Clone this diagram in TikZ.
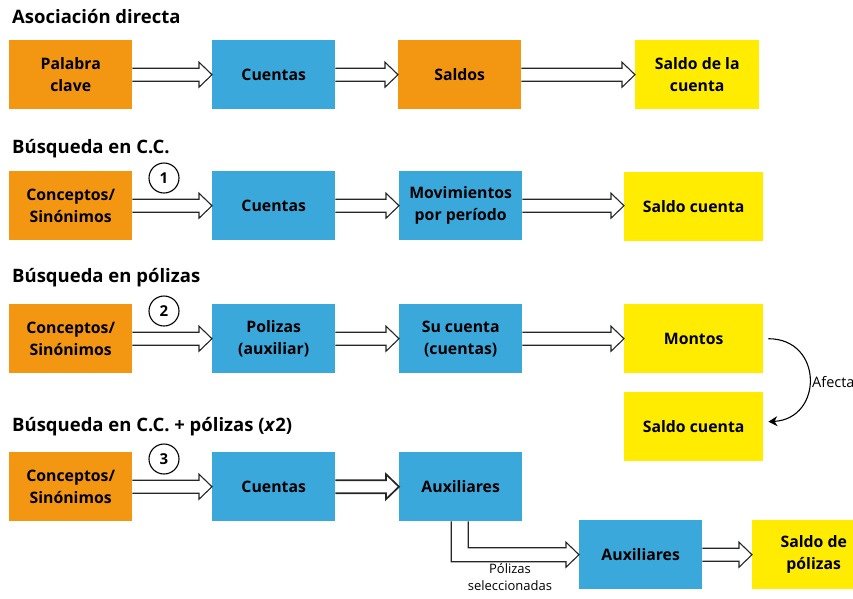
\documentclass[tikz,border=0pt]{standalone}
\usepackage{fontspec}
\setmainfont{Open Sans}
\usetikzlibrary{calc,arrows.meta}
\definecolor{cOr}{RGB}{243,150,18}
\definecolor{cBl}{RGB}{58,168,219}
\definecolor{cYe}{RGB}{255,236,0}
\newcommand\harrow[3][]{%
  \draw[harr,#1] let \p1=(#2.east), \p2=(#3.west) in
    (\x1,\y1+6.5pt) -- (\x2-13pt,\y1+6.5pt) -- (\x2-13pt,\y1+12.5pt) -- (\x2,\y1)
    -- (\x2-13pt,\y1-12.5pt) -- (\x2-13pt,\y1-6.5pt) -- (\x1,\y1-6.5pt);}
\begin{document}
\begin{tikzpicture}[x=1pt,y=-1pt,
  box/.style={minimum width=123pt, minimum height=69pt, inner sep=0pt, align=center,
    font=\fontsize{15.8}{22}\selectfont\bfseries, anchor=north west},
  orbox/.style={box, fill=cOr},
  blbox/.style={box, fill=cBl},
  yebox/.style={box, fill=cYe},
  title/.style={anchor=base west, inner sep=0pt, font=\fontsize{18.5}{21}\selectfont\bfseries},
  num/.style={circle, draw, line width=1.1pt, minimum size=30pt, inner sep=0pt,
    font=\fontsize{15}{18}\selectfont\bfseries},
  harr/.style={draw=black!85, line width=1.1pt, line join=miter},
  small/.style={inner sep=0pt, font=\fontsize{13}{17}\selectfont},
]
\useasboundingbox (0,0) rectangle (853,598);

% Row 1
\node[title] (t1) at (12,23) {Asociación directa};
\node[orbox] (a1) at (9,40) {Palabra\\clave};
\node[blbox] (a2) at (212,40) {Cuentas};
\node[orbox] (a3) at (398,40) {Saldos};
\node[yebox, minimum width=124pt] (a4) at (635,40) {Saldo de la\\cuenta};
\harrow{a1}{a2}
\harrow{a2}{a3}
\harrow{a3}{a4}

% Row 2
\node[title] (t2) at (12,153) {Búsqueda en C.C.};
\node[orbox] (b1) at (9,171) {Conceptos/\\Sinónimos};
\node[blbox] (b2) at (212,171) {Cuentas};
\node[blbox] (b3) at (399,171) {Movimientos\\por período};
\node[yebox, minimum width=139pt] (b4) at (624,172) {Saldo cuenta};
\node[num] (n1) at (164,178) {1};
\harrow{b1}{b2}
\harrow{b2}{b3}
\harrow{b3}{b4}

% Row 3
\node[title] (t3) at (12,282) {Búsqueda en pólizas};
\node[orbox] (c1) at (9,304) {Conceptos/\\Sinónimos};
\node[blbox] (c2) at (212,304) {Polizas\\(auxiliar)};
\node[blbox] (c3) at (399,304) {Su cuenta\\(cuentas)};
\node[yebox, minimum width=139pt] (c4) at (624,304) {Montos};
\node[yebox, minimum width=139pt] (c5) at (624,392) {Saldo cuenta};
\node[num] (n2) at (164,311) {2};
\harrow{c1}{c2}
\harrow{c2}{c3}
\harrow{c3}{c4}
\draw[line width=1.1pt, -{Stealth[length=9pt,width=10pt]}]
  ($(c4.east)+(5,0)$) .. controls +(55,0) and +(55,-3) .. ($(c5.east)+(5,-5)$);
\node[small, anchor=west, font=\fontsize{14.5}{17}\selectfont] (af) at (812,382) {Afecta};

% Row 4
\node[title] (t4) at (12,431) {Búsqueda en C.C. + pólizas (\textit{x}2)};
\node[orbox] (d1) at (9,452) {Conceptos/\\Sinónimos};
\node[blbox] (d2) at (212,452) {Cuentas};
\node[blbox] (d3) at (399,452) {Auxiliares};
\node[blbox, minimum width=123pt] (d4) at (579,520) {Auxiliares};
\node[yebox] (d5) at (752,520) {Saldo de\\pólizas};
\node[num] (n3) at (164,459) {3};
\harrow{d1}{d2}
\harrow[line width=1.7pt]{d2}{d3}
\harrow{d4}{d5}
\draw[harr] let \p1=(d3.south), \p2=(d4.west) in
  (\x1-9.5pt,\y1) -- (\x1-9.5pt,\y2-7pt) -- (\x2-13pt,\y2-7pt) -- (\x2-13pt,\y2-12.5pt)
  -- (\x2,\y2) -- (\x2-13pt,\y2+12.5pt) -- (\x2-13pt,\y2+7pt) -- (\x1+7.5pt,\y2+7pt)
  -- (\x1+7.5pt,\y1);
\node[small, align=center, anchor=north] (ps) at (510,563) {Pólizas\\seleccionadas};
\end{tikzpicture}
\end{document}
